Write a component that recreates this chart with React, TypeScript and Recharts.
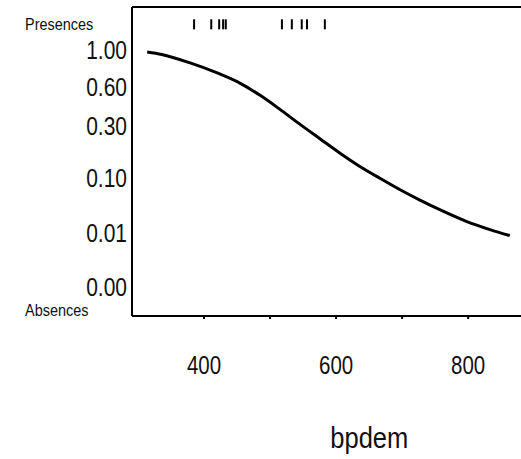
import {
  ComposedChart,
  Line,
  Scatter,
  XAxis,
  YAxis,
  ReferenceLine,
} from "recharts";

// fitted response curve
const bpdem = [314, 336, 379, 420, 455, 485, 515, 545, 576, 606, 636, 667, 697, 727, 757, 798, 833, 863];
const fitted = [0.978, 0.951, 0.86, 0.752, 0.64, 0.536, 0.428, 0.314, 0.25, 0.195, 0.144, 0.099, 0.0806, 0.0636, 0.0479, 0.0285, 0.0154, 0.0095];

// presence records (rug at top)
const presenceSites = [385, 411, 423, 429, 433, 518, 533, 548, 556, 583];

// y axis probability ticks
const probTicks = [0, 0.01, 0.1, 0.3, 0.6, 1.0];
const probTickLabels = ["0.00", "0.01", "0.10", "0.30", "0.60", "1.00"];

const xTicks = [400, 500, 600, 700, 800];
const xTickLabels = ["400", "", "600", "", "800"];

// the plot's probability axis is stretched, so map probabilities onto
// axis levels (0 = bottom, 100 = top) piecewise between the ticks
const tickLevels = [9.4, 26.9, 44.7, 61.5, 74.1, 86.1];
const PRESENCE_LEVEL = 94.4;
const ABSENCE_LEVEL = 1.9;

function toAxis(p: number) {
  if (p <= probTicks[0]) return tickLevels[0];
  for (let i = 1; i < probTicks.length; i++) {
    if (p <= probTicks[i]) {
      const t = (p - probTicks[i - 1]) / (probTicks[i] - probTicks[i - 1]);
      return tickLevels[i - 1] + t * (tickLevels[i] - tickLevels[i - 1]);
    }
  }
  return tickLevels[tickLevels.length - 1];
}

const curve = bpdem.map((x, i) => ({ x, y: toAxis(fitted[i]) }));
const rug = presenceSites.map((x) => ({ x, y: PRESENCE_LEVEL }));

const yTicks = [ABSENCE_LEVEL, ...tickLevels, PRESENCE_LEVEL];

const FONT = "'Liberation Sans', Arial, sans-serif";

// narrow text: the original uses a condensed face
function Narrow({ x, y, size, sx = 0.84, anchor = "start", baseline, children }: any) {
  return (
    <text
      transform={`translate(${x},${y}) scale(${sx},1)`}
      textAnchor={anchor}
      dominantBaseline={baseline}
      fontSize={size}
      fontFamily={FONT}
      fill="#111"
    >
      {children}
    </text>
  );
}

function YTick(props: any) {
  const { y, payload } = props;
  const v = payload.value;
  if (v === PRESENCE_LEVEL || v === ABSENCE_LEVEL) {
    return (
      <Narrow x={25} y={y} size={17} sx={0.85} baseline="central">
        {v === PRESENCE_LEVEL ? "Presences" : "Absences"}
      </Narrow>
    );
  }
  const idx = tickLevels.indexOf(v);
  return (
    <Narrow x={127} y={y} size={25} anchor="end" baseline="central">
      {probTickLabels[idx]}
    </Narrow>
  );
}

function XTick(props: any) {
  const { x, y, payload } = props;
  const label = xTickLabels[xTicks.indexOf(payload.value)];
  if (!label) return null;
  return (
    <Narrow x={x} y={y + 44} size={25} sx={0.82} anchor="middle" baseline="central">
      {label}
    </Narrow>
  );
}

function RugMark(props: any) {
  const { cx, cy } = props;
  return <rect x={cx - 1} y={cy - 5} width={2} height={10} fill="#000" />;
}

export default function App() {
  return (
    <div style={{ position: "absolute", left: 0, top: 0, background: "#fff" }}>
      <ComposedChart width={521} height={459} margin={{ top: 7, right: 0, bottom: 0, left: 0 }}>
        <XAxis
          type="number"
          dataKey="x"
          domain={[291, 880]}
          ticks={xTicks}
          interval={0}
          height={143}
          allowDataOverflow
          axisLine={{ stroke: "#000", strokeWidth: 2 }}
          tickLine={{ stroke: "#000", strokeWidth: 2 }}
          tickSize={3}
          tick={<XTick />}
          label={{
            content: (p: any) => {
              const vb = p.viewBox;
              return (
                <Narrow x={vb.x + vb.width * 0.61} y={448} size={30} sx={0.85} anchor="middle">
                  bpdem
                </Narrow>
              );
            },
          }}
        />
        <YAxis
          type="number"
          dataKey="y"
          domain={[0, 100]}
          ticks={yTicks}
          interval={0}
          width={132}
          tickLine={false}
          tickSize={0}
          axisLine={{ stroke: "#000", strokeWidth: 2 }}
          tick={<YTick />}
        />
        <ReferenceLine y={100} stroke="#000" strokeWidth={2} />
        <Line
          data={curve}
          dataKey="y"
          type="monotone"
          stroke="#000"
          strokeWidth={3}
          dot={false}
          isAnimationActive={false}
        />
        <Scatter data={rug} dataKey="y" shape={RugMark} isAnimationActive={false} />
      </ComposedChart>
    </div>
  );
}
